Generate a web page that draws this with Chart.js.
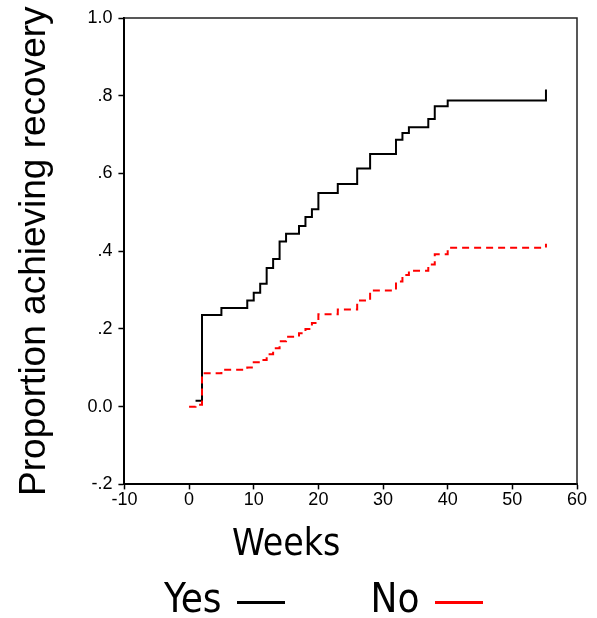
<!DOCTYPE html>
<html>
<head>
<meta charset="utf-8">
<script src="https://cdn.jsdelivr.net/npm/chart.js@4.4.1/dist/chart.umd.min.js"></script>
<style>
  body { margin: 0; background: #fff; }
  #wrap { position: relative; width: 597px; height: 618px; }
  .narrow {
    position: absolute; color: #000; line-height: 1;
    font-family: 'Liberation Sans Narrow', 'Arial Narrow', 'DejaVu Sans Condensed', sans-serif;
  }
  #xTitle { left: 232px; top: 524px; font-size: 37px; }
  #legend { left: 164px; top: 578px; font-size: 40px; display: flex; align-items: center; }
  #legend .item { display: flex; align-items: center; margin-right: 86px; }
  #legend .swatch { width: 48px; height: 3px; margin-left: 15px; margin-top: 8px; }
</style>
</head>
<body>
<div id="wrap">
  <canvas id="kmChart" width="597" height="618"></canvas>
  <div id="xTitle" class="narrow">Weeks</div>
  <div id="legend" class="narrow"></div>
</div>
<script>
// weeks at which each curve steps, and the proportion reached at that step
const yesWeeks = [1, 2, 5, 9, 10, 11, 12, 13, 14, 15, 17, 18, 19, 20, 23, 26, 28, 32, 33, 34, 37, 38, 40, 55.2];
const yesValues = [0.015, 0.236, 0.254, 0.273, 0.293, 0.316, 0.357, 0.380, 0.425, 0.445, 0.465, 0.488, 0.508, 0.550, 0.573, 0.613, 0.650, 0.687, 0.704, 0.719, 0.740, 0.773, 0.788, 0.816];

const noWeeks = [0, 1, 2, 5, 9, 10, 11, 12, 13, 14, 15, 17, 18, 19, 20, 23, 26, 28, 32, 33, 34, 37, 38, 40, 55.2];
const noValues = [0, 0.005, 0.086, 0.095, 0.101, 0.114, 0.120, 0.135, 0.150, 0.168, 0.180, 0.189, 0.200, 0.215, 0.238, 0.250, 0.273, 0.299, 0.322, 0.339, 0.350, 0.366, 0.392, 0.409, 0.419];

const groupLabels = ['Yes', 'No'];
const groupColors = ['#000000', '#ff0000'];

const toPoints = (xs, ys) => xs.map((x, i) => ({x: x, y: ys[i]}));

// box round the plot area (top and right edges)
const frame = {
    id: 'frame',
    afterDatasetsDraw(chart) {
        const a = chart.chartArea;
        const c = chart.ctx;
        c.save();
        c.strokeStyle = '#222';
        c.lineWidth = 1.5;
        c.beginPath();
        c.moveTo(a.left, a.top);
        c.lineTo(a.right, a.top);
        c.lineTo(a.right, a.bottom);
        c.stroke();
        c.restore();
    }
};

var ctx = document.getElementById('kmChart').getContext('2d');
var chart = new Chart(ctx, {
    type: 'line',
    data: {
        datasets: [{
            label: groupLabels[0],
            data: toPoints(yesWeeks, yesValues),
            borderColor: groupColors[0],
            borderWidth: 2,
            stepped: 'before',
            pointRadius: 0,
            order: 1
        }, {
            label: groupLabels[1],
            data: toPoints(noWeeks, noValues),
            borderColor: groupColors[1],
            borderWidth: 2,
            borderDash: [7, 5],
            stepped: 'before',
            pointRadius: 0,
            order: 0
        }]
    },
    options: {
        responsive: false,
        animation: false,
        devicePixelRatio: 1,
        layout: { padding: { left: 0, right: 20, top: 18, bottom: 107 } },
        plugins: {
            legend: { display: false },
            tooltip: { enabled: false }
        },
        scales: {
            x: {
                type: 'linear',
                min: -10,
                max: 60,
                border: { color: '#000', width: 2 },
                grid: { drawOnChartArea: false, color: '#000', tickLength: 5, tickWidth: 1.5 },
                ticks: {
                    stepSize: 10,
                    padding: 0,
                    color: '#000',
                    font: { family: "'Liberation Sans', Arial, sans-serif", size: 18 }
                }
            },
            y: {
                min: -0.2,
                max: 1.0,
                border: { color: '#000', width: 2 },
                grid: { drawOnChartArea: false, color: '#000', tickLength: 6, tickWidth: 1.5 },
                ticks: {
                    stepSize: 0.2,
                    padding: 6,
                    color: '#000',
                    font: { family: "'Liberation Sans', Arial, sans-serif", size: 18 },
                    callback: function(v) {
                        var s = (Math.round(v * 10) / 10).toFixed(1);
                        if (s === '0.0' || s === '1.0') return s;
                        return s.replace('0.', '.');
                    }
                },
                title: {
                    display: true,
                    text: 'Proportion achieving recovery',
                    color: '#000',
                    padding: { top: 13, bottom: 24 },
                    font: { family: "'Liberation Sans', Arial, sans-serif", size: 37 }
                }
            }
        }
    },
    plugins: [frame]
});

// legend: label text first, then the line sample
var legend = document.getElementById('legend');
groupLabels.forEach(function(name, i) {
    var item = document.createElement('div');
    item.className = 'item';
    var txt = document.createElement('span');
    txt.textContent = name;
    var sw = document.createElement('span');
    sw.className = 'swatch';
    sw.style.background = groupColors[i];
    item.appendChild(txt);
    item.appendChild(sw);
    legend.appendChild(item);
});
</script>
</body>
</html>
